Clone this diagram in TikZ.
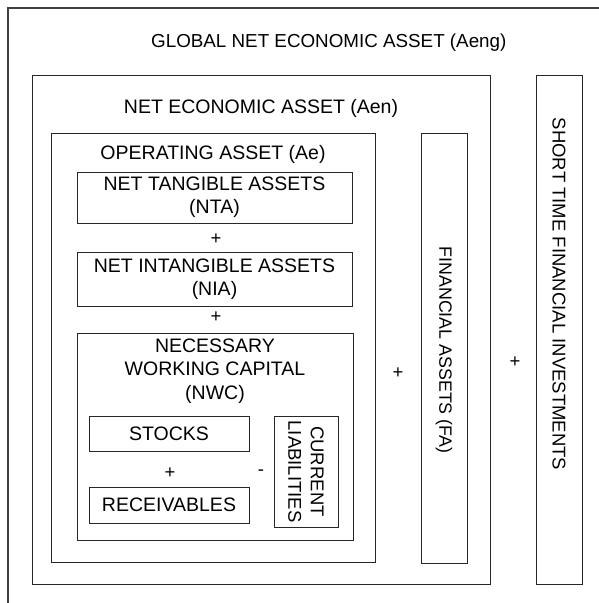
\documentclass[tikz,border=0pt]{standalone}
\usepackage{fontspec}
\setmainfont{Liberation Sans}
\begin{document}
\begin{tikzpicture}[x=1pt,y=-1pt,
  box/.style={draw=black!85,line width=0.9pt,rectangle,inner sep=0pt,align=center,
    font=\fontsize{19.5}{23}\selectfont},
  lbl/.style={inner sep=0pt,align=center,font=\fontsize{19.5}{23.3}\selectfont},
  rlbl/.style={inner sep=0pt,align=center,rotate=-90,font=\fontsize{18.5}{22.5}\selectfont},
  op/.style={inner sep=0pt,font=\fontsize{18.5}{22.5}\selectfont}]
\useasboundingbox (0,0) rectangle (598,603);
\fill[white] (0,0) rectangle (598,603);
% outer box (cropped)
\coordinate (oBL) at (8,610);
\coordinate (oTL) at (8,8);
\coordinate (oTR) at (610,8);
\draw[black!75,line width=1.2pt] (oBL) -- (oTL) -- (oTR);
\node[lbl,anchor=west,font=\fontsize{18.8}{22.5}\selectfont] (aeng) at (151,43) {GLOBAL NET ECONOMIC ASSET (Aeng)};
% Aen
\node[box,minimum width=458,minimum height=509] (aen) at (261,329.5) {};
\node[lbl] (aenl) at (261,108) {NET ECONOMIC ASSET (Aen)};
% STFI
\node[box,minimum width=46,minimum height=509] (stfi) at (559,329.5) {};
\node[rlbl] (stfil) at (559,294) {SHORT TIME FINANCIAL INVESTMENTS};
% Ae
\node[box,minimum width=324,minimum height=429] (ae) at (213,347.5) {};
\node[lbl] (ael) at (213,154) {OPERATING ASSET (Ae)};
% FA
\node[box,minimum width=46,minimum height=430] (fa) at (444,348) {};
\node[rlbl,font=\fontsize{17.8}{22}\selectfont] (fal) at (444,350) {FINANCIAL ASSETS (FA)};
% NTA, NIA
\node[box,minimum width=275,minimum height=51] (nta) at (214.5,197.5) {NET TANGIBLE ASSETS\\(NTA)};
\node[box,minimum width=275,minimum height=54] (nia) at (214.5,279) {NET INTANGIBLE ASSETS\\(NIA)};
% NWC
\node[box,minimum width=276,minimum height=207] (nwc) at (215,436.5) {};
\node[lbl] (nwcl) at (215,371) {NECESSARY\\WORKING CAPITAL\\(NWC)};
\node[box,minimum width=160,minimum height=35] (stocks) at (169,433.5) {STOCKS};
\node[box,minimum width=160,minimum height=36] (rec) at (169,505) {RECEIVABLES};
\node[box,minimum width=64,minimum height=111] (cl) at (306,471.5) {};
\node[rlbl] (cll) at (306,471.5) {CURRENT\\LIABILITIES};
% operators
\node[op] (p1) at (216,239) {+};
\node[op] (p2) at (216,317) {+};
\node[op] (p3) at (170,473) {+};
\node[op] (m1) at (261,473) {-};
\node[op] (p4) at (398,373) {+};
\node[op] (p5) at (515,362) {+};
\end{tikzpicture}
\end{document}
